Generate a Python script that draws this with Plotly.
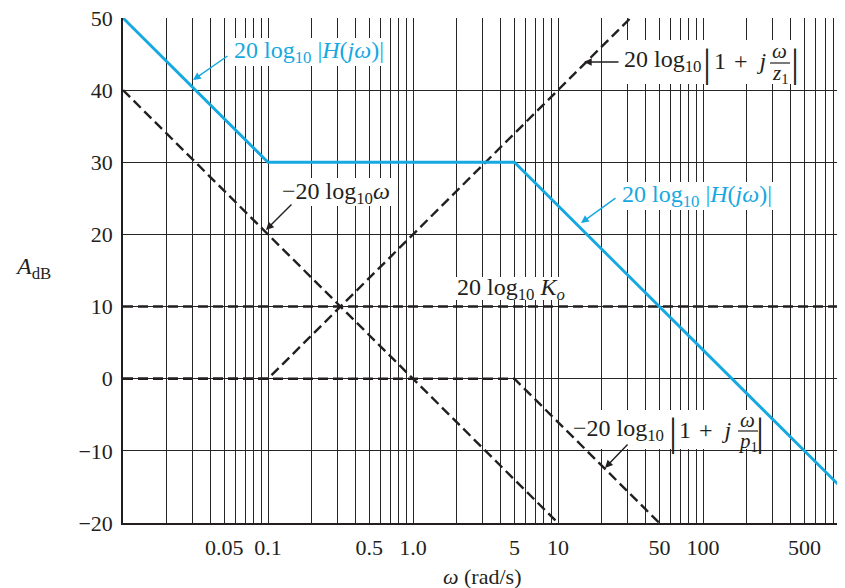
import math
import plotly.graph_objects as go

# ---------------- data (asymptotic Bode magnitude pieces) ----------------
omega_H = [0.01, 0.1, 5, 880]
dB_H = [50, 30, 30, -14.9]

omega_int = [0.01, 10]
dB_int = [40, -20]

omega_K = [0.01, 953]
dB_K = [10, 10]

omega_z = [0.01, 0.1, 31.6]
dB_z = [0, 0, 50]

omega_p = [0.01, 5, 50]
dB_p = [0, 0, -20]

x_tick_vals = [0.05, 0.1, 0.5, 1.0, 5, 10, 50, 100, 500]
x_tick_text = ["0.05", "0.1", "0.5", "1.0", "5", "10", "50", "100", "500"]
y_ticks = [-20, -10, 0, 10, 20, 30, 40, 50]

# ---------------- style ----------------
BLUE = "#16A8E0"
INK = "#231f20"
GRID = "#262626"
FONT = "Liberation Serif, Times New Roman, serif"
OFF = 8                       # default page body margin
PL, PR, PT, PB = 123, 845, 18, 523   # plot area in page pixels
W, H = 845 - OFF, 588 - OFF
DECADES = 4.979
PPD = (PR - PL) / DECADES
XMAX_LOG = -2 + DECADES
YMIN, YMAX = -20, 50
PH = PB - PT


def lx(px):
    return (px - PL) / PPD - 2


def dy(py):
    return YMAX - (py - PT) * (YMAX - YMIN) / PH


# minor grid values (1..9 per decade), excluding the labelled ones
minor_vals = []
for e in range(-2, 3):
    for m in range(1, 10):
        v = round(m * 10 ** e, 6)
        if math.log10(v) <= XMAX_LOG and all(abs(v - t) > 1e-9 for t in x_tick_vals):
            minor_vals.append(v)

fig = go.Figure()
dash = "10px,5px"
for xs, ys in [(omega_int, dB_int), (omega_K, dB_K), (omega_z, dB_z), (omega_p, dB_p)]:
    fig.add_trace(go.Scatter(x=xs, y=ys, mode="lines",
                             line=dict(color=INK, width=2.4, dash=dash),
                             hoverinfo="skip", showlegend=False))
fig.add_trace(go.Scatter(x=omega_H, y=dB_H, mode="lines",
                         line=dict(color=BLUE, width=2.9),
                         hoverinfo="skip", showlegend=False))

ann = []
shapes = []


def text(px, py, t, size=24, color=INK, xanchor="center"):
    ann.append(dict(x=lx(px), y=dy(py), xref="x", yref="y", text=t, showarrow=False,
                    xanchor=xanchor, yanchor="middle",
                    font=dict(family=FONT, size=size, color=color), borderpad=0))


def arrow(tx, ty, hx, hy, color=INK):
    ann.append(dict(x=lx(hx), y=dy(hy), ax=lx(tx), ay=dy(ty), xref="x", yref="y",
                    axref="x", ayref="y", text="", showarrow=True, arrowhead=2,
                    arrowsize=1.1, arrowwidth=1.4, arrowcolor=color, standoff=0))


def box(x0, y0, x1, y1):
    shapes.append(dict(type="rect", xref="x", yref="y", layer="between",
                       x0=10 ** lx(x0), x1=10 ** lx(x1), y0=dy(y1), y1=dy(y0),
                       fillcolor="white", line=dict(width=0)))


def hline(x0, x1, py):
    shapes.append(dict(type="line", xref="x", yref="y", x0=10 ** lx(x0), x1=10 ** lx(x1),
                       y0=dy(py), y1=dy(py), line=dict(color=INK, width=1.2)))


ONE_PLUS_J = "1 &#8202;+ &#8197;<i>j</i>"

# blue label top-left
box(229, 38, 390, 66)
text(309, 52, "20 log<sub>10</sub> |<i>H</i>(<i>jω</i>)|", color=BLUE)
arrow(229, 55, 193, 80, BLUE)

# z1 label
box(619, 40, 802, 84)
text(623, 61, "20 log<sub>10</sub>", xanchor="left")
text(707, 62, "|", size=40)
text(713, 61, ONE_PLUS_J, xanchor="left")
text(779, 51, "<i>ω</i>", size=21)
text(780, 74, "<i>z</i><sub>1</sub>", size=21)
hline(770, 790, 63)
text(795, 62, "|", size=40)
arrow(620, 62, 584, 62)

# -20 log w
box(278, 178, 396, 206)
text(336, 193, "−20 log<sub>10</sub><i>ω</i>")
arrow(293, 203, 266, 230)

# blue label right
box(616, 182, 779, 210)
text(697, 196, "20 log<sub>10</sub> |<i>H</i>(<i>jω</i>)|", color=BLUE)
arrow(617, 197, 581, 223, BLUE)

# K_o
box(451, 277, 572, 300)
text(511, 289, "20 log<sub>10</sub> <i>K<sub>o</sub></i>")

# p1 label
box(567, 410, 766, 449)
text(572, 430, "−20 log<sub>10</sub>", xanchor="left")
text(673, 431, "|", size=40)
text(678, 430, ONE_PLUS_J, xanchor="left")
text(747, 420, "<i>ω</i>", size=21)
text(748, 442, "<i>p</i><sub>1</sub>", size=21)
hline(738, 758, 431)
text(760, 431, "|", size=40)
arrow(629, 443, 605, 468)

# axis titles
ann.append(dict(x=(33 - PL) / (PR - PL), y=dy(268), xref="paper", yref="y",
                xanchor="center", yanchor="middle",
                text="<i>A</i><sub>dB</sub>", showarrow=False,
                font=dict(family=FONT, size=24, color=INK)))
ann.append(dict(x=(482 - PL) / (PR - PL), y=-(576 - PB) / PH, xref="paper", yref="paper",
                xanchor="center", yanchor="middle",
                text="<i>ω</i> (rad/s)", showarrow=False,
                font=dict(family=FONT, size=22, color=INK)))

fig.update_layout(
    width=W, height=H,
    margin=dict(l=PL - OFF, r=0, t=PT - OFF, b=H - (PB - OFF), autoexpand=False),
    paper_bgcolor="white", plot_bgcolor="white",
    font=dict(family=FONT, size=22, color=INK),
    annotations=ann, shapes=shapes,
    xaxis=dict(type="log", range=[-2, XMAX_LOG], tickmode="array",
               tickvals=x_tick_vals, ticktext=x_tick_text,
               showgrid=True, gridcolor=GRID, gridwidth=1.3, ticks="",
               minor=dict(tickmode="array", tickvals=minor_vals, showgrid=True,
                          gridcolor=GRID, gridwidth=1.3, ticks=""),
               showline=True, linecolor=INK, linewidth=1.5, zeroline=False,
               ticklabelstandoff=4, ticklabeloverflow="allow",
               tickfont=dict(family=FONT, size=22, color=INK), fixedrange=True),
    yaxis=dict(range=[YMIN, YMAX], tickvals=y_ticks, showgrid=True, gridcolor=GRID,
               gridwidth=1.3, ticks="", showline=True, linecolor=INK, linewidth=1.5,
               zeroline=False, ticklabelstandoff=4, ticklabeloverflow="allow",
               tickfont=dict(family=FONT, size=22, color=INK), fixedrange=True),
)

fig.write_html("out.html")
